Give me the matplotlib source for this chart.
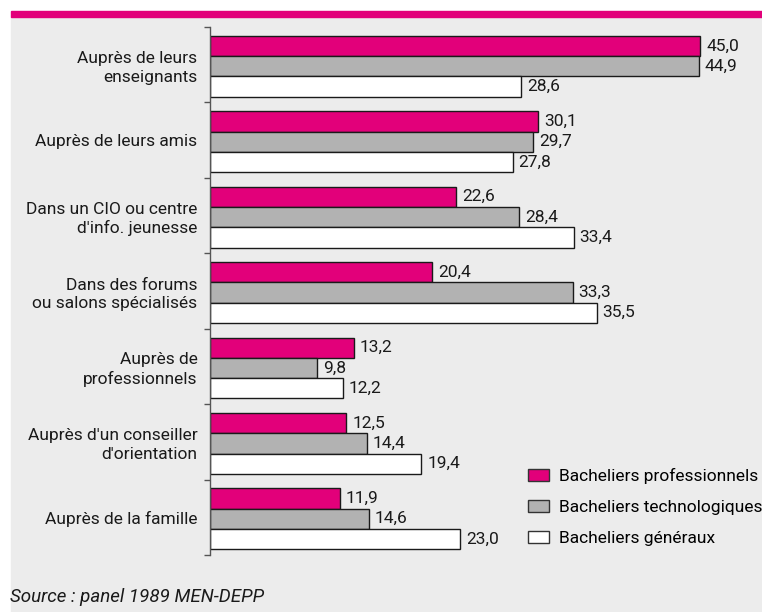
import numpy as np
import matplotlib
matplotlib.use('Agg')
from matplotlib import pyplot as plt
from matplotlib.patches import Rectangle, Patch

# pas de police "narrow" installée : Roboto est la plus proche
plt.rcParams['font.family'] = ['Roboto', 'DejaVu Sans']

# données
categories = ["Auprès de leurs\nenseignants", "Auprès de leurs amis",
              "Dans un CIO ou centre\nd'info. jeunesse",
              "Dans des forums\nou salons spécialisés",
              "Auprès de\nprofessionnels", "Auprès d'un conseiller\nd'orientation",
              "Auprès de la famille"]
pro = [45.0, 30.1, 22.6, 20.4, 13.2, 12.5, 11.9]
techno = [44.9, 29.7, 28.4, 33.3, 9.8, 14.4, 14.6]
generaux = [28.6, 27.8, 33.4, 35.5, 12.2, 19.4, 23.0]
series_names = ["Bacheliers professionnels", "Bacheliers technologiques", "Bacheliers généraux"]
colors = ['#e2007a', '#b2b2b2', '#ffffff']

W, H = 762, 612
fig = plt.figure(figsize=(W / 100, H / 100), dpi=100)

# fond gris + bandeau rose
fig.patches.append(Rectangle((11 / W, 0), 1, 1 - 17 / H, transform=fig.transFigure,
                             color='#ececec', zorder=-2))
fig.patches.append(Rectangle((11 / W, 1 - 17 / H), 1, 6 / H, transform=fig.transFigure,
                             color='#e2007a', zorder=-1))

ax = fig.add_axes([210 / W, 1 - 555 / H, 1 - 210 / W, (555 - 27) / H])
ax.set_facecolor('none')

y = np.arange(len(categories))
h = 0.269
for k, (vals, c) in enumerate(zip([pro, techno, generaux], colors)):
    pos = y + (k - 1) * h + 0.02
    ax.barh(pos, vals, height=h, color=c, edgecolor='#1a1a1a', linewidth=1.0)
    for p, v in zip(pos, vals):
        ax.text(v + 0.55, p, f"{v:.1f}".replace('.', ','), va='center', ha='left',
                fontsize=12.5, color='#1a1a1a')

ax.set_xlim(0, 552 / 10.89)
ax.set_ylim(len(categories) - 0.5, -0.5)
ax.set_yticks(y)
ax.set_yticklabels(categories, fontsize=12.5, color='#1a1a1a', linespacing=1.3)
ax.tick_params(axis='y', which='major', length=0, pad=9)
ax.set_yticks(np.arange(-0.5, len(categories)), minor=True)
ax.tick_params(axis='y', which='minor', length=4, width=1, color='#555555')
ax.set_xticks([])
for s in ['top', 'right', 'bottom']:
    ax.spines[s].set_visible(False)
ax.spines['left'].set_color('#555555')
ax.spines['left'].set_linewidth(1)

handles = [Patch(facecolor=c, edgecolor='#333333', linewidth=1) for c in colors]
fig.legend(handles, series_names, loc='center left', bbox_to_anchor=(528 / W, 1 - 507 / H),
           frameon=False, fontsize=12.5, handlelength=1.2, handleheight=0.7,
           labelspacing=0.9, handletextpad=0.6, borderpad=0, borderaxespad=0)

fig.text(10 / W, 1 - 597 / H, "Source : panel 1989 MEN-DEPP", fontsize=13.5,
         style='italic', va='center', ha='left', color='#1a1a1a')

fig.savefig('out.png', dpi=100)
